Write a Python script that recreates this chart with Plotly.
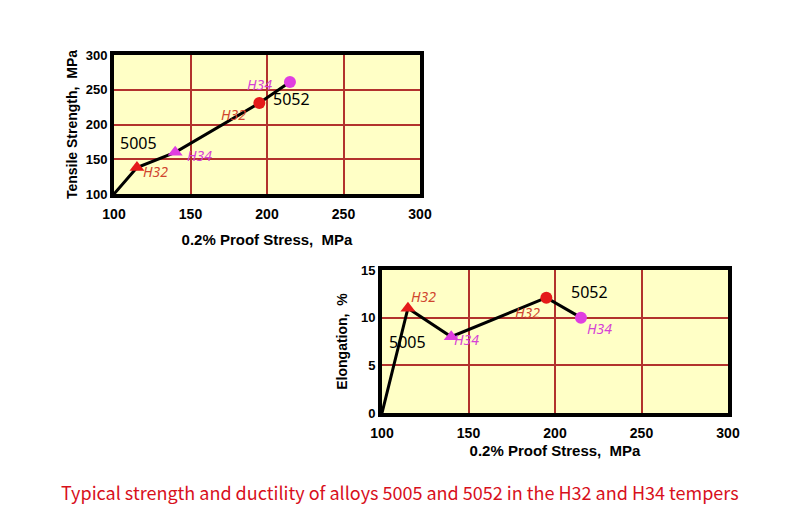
import plotly.graph_objects as go

# Data
proof_stress = [100, 115, 140, 195, 215]
tensile = [100, 138, 160, 231, 261]
elongation = [0, 11, 8, 12.1, 10]
marker_symbols = [None, "triangle-up", "triangle-up", "circle", "circle"]
marker_colors = [None, "#e41a1a", "#e03ee0", "#e41a1a", "#e03ee0"]
x_ticks = [100, 150, 200, 250, 300]
y1_ticks = [100, 150, 200, 250, 300]
y2_ticks = [0, 5, 10, 15]
caption = "Typical strength and ductility of alloys 5005 and 5052 in the H32 and H34 tempers"

BG = "#ffffc6"
GRID = "#b2322d"
FONT = "Liberation Sans"

fig = go.Figure()

fig.add_trace(go.Scatter(x=proof_stress, y=tensile, mode="lines",
                         line=dict(color="black", width=3), xaxis="x", yaxis="y",
                         showlegend=False, cliponaxis=False))
fig.add_trace(go.Scatter(x=proof_stress, y=elongation, mode="lines",
                         line=dict(color="black", width=3), xaxis="x2", yaxis="y2",
                         showlegend=False, cliponaxis=False))
for i in range(1, len(proof_stress)):
    for xa, ya, yv in (("x", "y", tensile), ("x2", "y2", elongation)):
        fig.add_trace(go.Scatter(x=[proof_stress[i]], y=[yv[i]], mode="markers",
                                 marker=dict(symbol=marker_symbols[i], color=marker_colors[i],
                                             size=13 if "triangle" in marker_symbols[i] else 12,
                                             line=dict(width=0)),
                                 xaxis=xa, yaxis=ya, showlegend=False, cliponaxis=False))

def axis(domain, anchor, tickvals, rng, title, tsize, lsize):
    return dict(domain=domain, anchor=anchor, range=rng, tickvals=tickvals,
                showgrid=True, gridcolor=GRID, gridwidth=1.5, zeroline=False,
                showline=True, linecolor="black", linewidth=4, mirror=True,
                automargin=False,
                ticks="", tickfont=dict(family=FONT, size=tsize, color="black", weight="bold"),
                title=dict(text=title, font=dict(family=FONT, size=lsize, color="black", weight="bold")),
                fixedrange=True)

xa1 = axis([114/800, 420/800], "y", x_ticks, [100, 300], "0.2% Proof Stress,  MPa", 14, 15)
xa1["title"]["standoff"] = 15
xa1["ticklabelstandoff"] = 4
ya1 = axis([1-194/530, 1-55/530], "x", y1_ticks, [100, 300], "Tensile Strength,  MPa", 13, 14)
ya1["title"]["standoff"] = 6
xa2 = axis([382/800, 728/800], "y2", x_ticks, [100, 300], "0.2% Proof Stress,  MPa", 14, 15)
xa2["title"]["standoff"] = 7
xa2["ticklabelstandoff"] = 4
ya2 = axis([1-413/530, 1-270/530], "x2", y2_ticks, [0, 15], "Elongation,  %", 13, 14)
ya2["title"]["standoff"] = 11

annotations = []
def lab(x, y, text, color, xr, yr, italic=True, size=14):
    annotations.append(dict(x=x, y=y, xref=xr, yref=yr, text=(f"<i>{text}</i>" if italic else text),
                            showarrow=False, font=dict(family="Noto Sans", size=size, color=color)))

H32C = "#d0452e"
H34C = "#d640d6"
# top
lab(127, 133, "H32", H32C, "x", "y")
lab(156, 156, "H34", H34C, "x", "y")
lab(178, 215, "H32", H32C, "x", "y")
lab(195, 258, "H34", H34C, "x", "y")
lab(216, 237, "5052", "black", "x", "y", italic=False, size=16)
lab(116, 173, "5005", "black", "x", "y", italic=False, size=16)
# bottom
lab(124, 12.2, "H32", H32C, "x2", "y2")
lab(149, 7.7, "H34", H34C, "x2", "y2")
lab(184, 10.5, "H32", H32C, "x2", "y2")
lab(226, 8.9, "H34", H34C, "x2", "y2")
lab(220, 12.7, "5052", "black", "x2", "y2", italic=False, size=16)
lab(114.5, 7.4, "5005", "black", "x2", "y2", italic=False, size=16)

annotations.append(dict(x=0.5, y=1-492/530, xref="paper", yref="paper", text=caption,
                        showarrow=False, xanchor="center", yanchor="middle",
                        font=dict(family="Noto Sans CJK SC", size=18, color="#d8101c")))

fig.update_layout(width=800, height=530, margin=dict(l=0, r=0, t=0, b=0),
                  paper_bgcolor="white", plot_bgcolor=BG,
                  xaxis=xa1, yaxis=ya1, xaxis2=xa2, yaxis2=ya2,
                  annotations=annotations, showlegend=False)

fig.write_html("out.html")
